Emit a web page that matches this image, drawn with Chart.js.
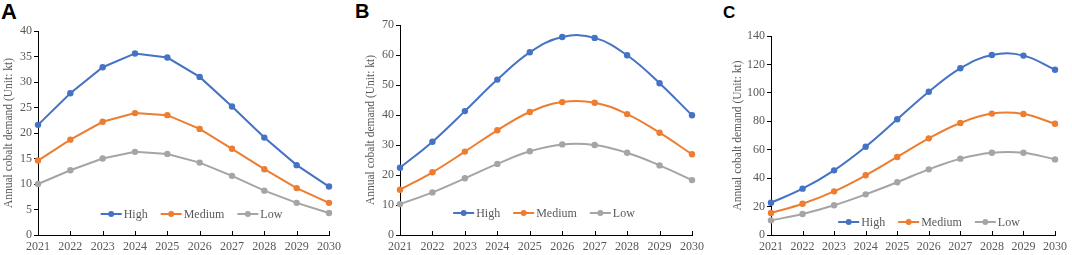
<!DOCTYPE html>
<html>
<head>
<meta charset="utf-8">
<script src="https://cdn.jsdelivr.net/npm/chart.js@4.4.0/dist/chart.umd.min.js"></script>
<style>
body { margin: 0; width: 1072px; height: 255px; background: #fff; overflow: hidden; position: relative; }
.panel { position: absolute; top: 0; height: 255px; }
.tag { position: absolute; font-family: "Liberation Sans", Arial, sans-serif; font-weight: bold; color: #000; line-height: 1; }
</style>
</head>
<body>
<div class="tag" style="left:1px;top:1px;font-size:22px">A</div>
<div class="tag" style="left:355px;top:1px;font-size:20px">B</div>
<div class="tag" style="left:723px;top:4px;font-size:17px">C</div>
<canvas id="g_a" class="panel" style="left:0px" width="357" height="255"></canvas>
<canvas id="g_b" class="panel" style="left:357px" width="357" height="255"></canvas>
<canvas id="g_c" class="panel" style="left:714px" width="358" height="255"></canvas>
<script>
// données
const years = ['2021', '2022', '2023', '2024', '2025', '2026', '2027', '2028', '2029', '2030'];
const scenarios = ['High', 'Medium', 'Low'];

const highA = [21.6, 27.8, 32.9, 35.6, 34.8, 31.0, 25.2, 19.1, 13.7, 9.5];
const mediumA = [14.6, 18.7, 22.2, 23.9, 23.5, 20.8, 16.9, 12.9, 9.2, 6.3];
const lowA = [10.0, 12.7, 15.0, 16.3, 15.9, 14.2, 11.6, 8.7, 6.3, 4.3];

const highB = [22.4, 31.1, 41.3, 51.8, 60.9, 66.0, 65.7, 59.9, 50.6, 39.9];
const mediumB = [15.1, 20.9, 27.8, 34.9, 41.0, 44.3, 44.1, 40.3, 34.1, 26.9];
const lowB = [10.3, 14.2, 18.9, 23.7, 27.9, 30.2, 30.0, 27.4, 23.2, 18.3];

const highC = [22.7, 32.6, 45.5, 62.1, 81.4, 100.8, 117.3, 126.6, 126.2, 116.3];
const mediumC = [15.5, 22.0, 30.7, 42.0, 54.9, 68.0, 78.8, 85.4, 85.1, 78.3];
const lowC = [10.3, 14.8, 20.9, 28.6, 37.1, 46.2, 53.7, 57.9, 57.9, 53.2];

const yMaxA = 40, yStepA = 5;
const yMaxB = 70, yStepB = 10;
const yMaxC = 140, yStepC = 20;

const colors = ['#4472C4', '#ED7D31', '#A5A5A5'];
const textColor = '#595959';
const serif = "'Liberation Serif', 'Times New Roman', serif";
const yTitle = 'Annual cobalt demand (Unit: kt)';

// petites graduations vers l'intérieur sur l'axe x + légende dans la zone du graphe
const extras = {
    id: 'extras',
    afterDraw(chart, args, opts) {
        const ctx = chart.ctx;
        const xs = chart.scales.x;
        const bottom = chart.chartArea.bottom;
        ctx.save();
        ctx.strokeStyle = '#000';
        ctx.lineWidth = 1;
        for (let i = 1; i < xs.ticks.length; i++) {
            const px = Math.round(xs.getPixelForTick(i)) + 0.5;
            ctx.beginPath();
            ctx.moveTo(px, bottom);
            ctx.lineTo(px, bottom - 4);
            ctx.stroke();
        }
        // légende
        ctx.font = '12px ' + serif;
        ctx.textBaseline = 'middle';
        const seg = 21, gap = 2, space = 13;
        let total = 0;
        chart.data.datasets.forEach((d, i) => {
            total += seg + gap + ctx.measureText(d.label).width + (i ? space : 0);
        });
        let x = (chart.chartArea.left + chart.chartArea.right) / 2 - total / 2 + opts.dx;
        const y = opts.y;
        chart.data.datasets.forEach((d, i) => {
            if (i) x += space;
            ctx.strokeStyle = d.borderColor;
            ctx.lineWidth = 2;
            ctx.beginPath();
            ctx.moveTo(x, y);
            ctx.lineTo(x + seg, y);
            ctx.stroke();
            ctx.fillStyle = d.borderColor;
            ctx.beginPath();
            ctx.arc(x + seg / 2, y, 3, 0, Math.PI * 2);
            ctx.fill();
            x += seg + gap;
            ctx.fillStyle = textColor;
            ctx.fillText(d.label, x, y + 1);
            x += ctx.measureText(d.label).width;
        });
        ctx.restore();
    }
};

function makeChart(id, series, yMax, yStep, box, smooth, legend) {
    const context = document.getElementById(id).getContext('2d');
    const W = context.canvas.width;
    const datasets = series.map((values, i) => ({
        label: scenarios[i],
        data: values,
        borderColor: colors[i],
        backgroundColor: colors[i],
        borderWidth: 2,
        pointRadius: 3.2,
        pointBorderWidth: 0,
        tension: smooth ? 0.4 : 0,
        fill: false
    }));
    const tickFont = { family: serif, size: 12 };
    return new Chart(context, {
        type: 'line',
        data: { labels: years, datasets: datasets },
        options: {
            responsive: false,
            animation: false,
            events: [],
            layout: { padding: { left: 0, top: box.top, right: W - box.right, bottom: 0 } },
            plugins: {
                legend: { display: false },
                tooltip: { enabled: false },
                extras: legend
            },
            scales: {
                x: {
                    offset: false,
                    grid: { display: false, drawTicks: false },
                    border: { color: '#000', width: 1 },
                    ticks: { font: tickFont, color: textColor, padding: 5, maxRotation: 0, autoSkip: false },
                    afterFit: s => { s.height = 255 - box.bottom; }
                },
                y: {
                    min: 0,
                    max: yMax,
                    ticks: { stepSize: yStep, font: tickFont, color: textColor, padding: 2 },
                    grid: { drawOnChartArea: false, tickLength: 4, color: '#000' },
                    border: { color: '#000', width: 1 },
                    title: {
                        display: true,
                        text: yTitle,
                        font: { family: serif, size: 11.5 },
                        color: textColor,
                        padding: { top: box.titlePad, bottom: 0 }
                    },
                    afterFit: s => { s.width = box.left; }
                }
            }
        },
        plugins: [extras]
    });
}

window.addEventListener('load', () => {
    makeChart('g_a', [highA, mediumA, lowA], yMaxA, yStepA,
        { left: 38, right: 329, top: 31, bottom: 235, titlePad: 2 }, false, { y: 214, dx: 8 });
    makeChart('g_b', [highB, mediumB, lowB], yMaxB, yStepB,
        { left: 43, right: 335, top: 25, bottom: 235, titlePad: 7 }, true, { y: 213, dx: -2 });
    makeChart('g_c', [highC, mediumC, lowC], yMaxC, yStepC,
        { left: 57, right: 345, top: 36, bottom: 235, titlePad: 17 }, true, { y: 222, dx: 16 });
});
</script>
</body>
</html>
